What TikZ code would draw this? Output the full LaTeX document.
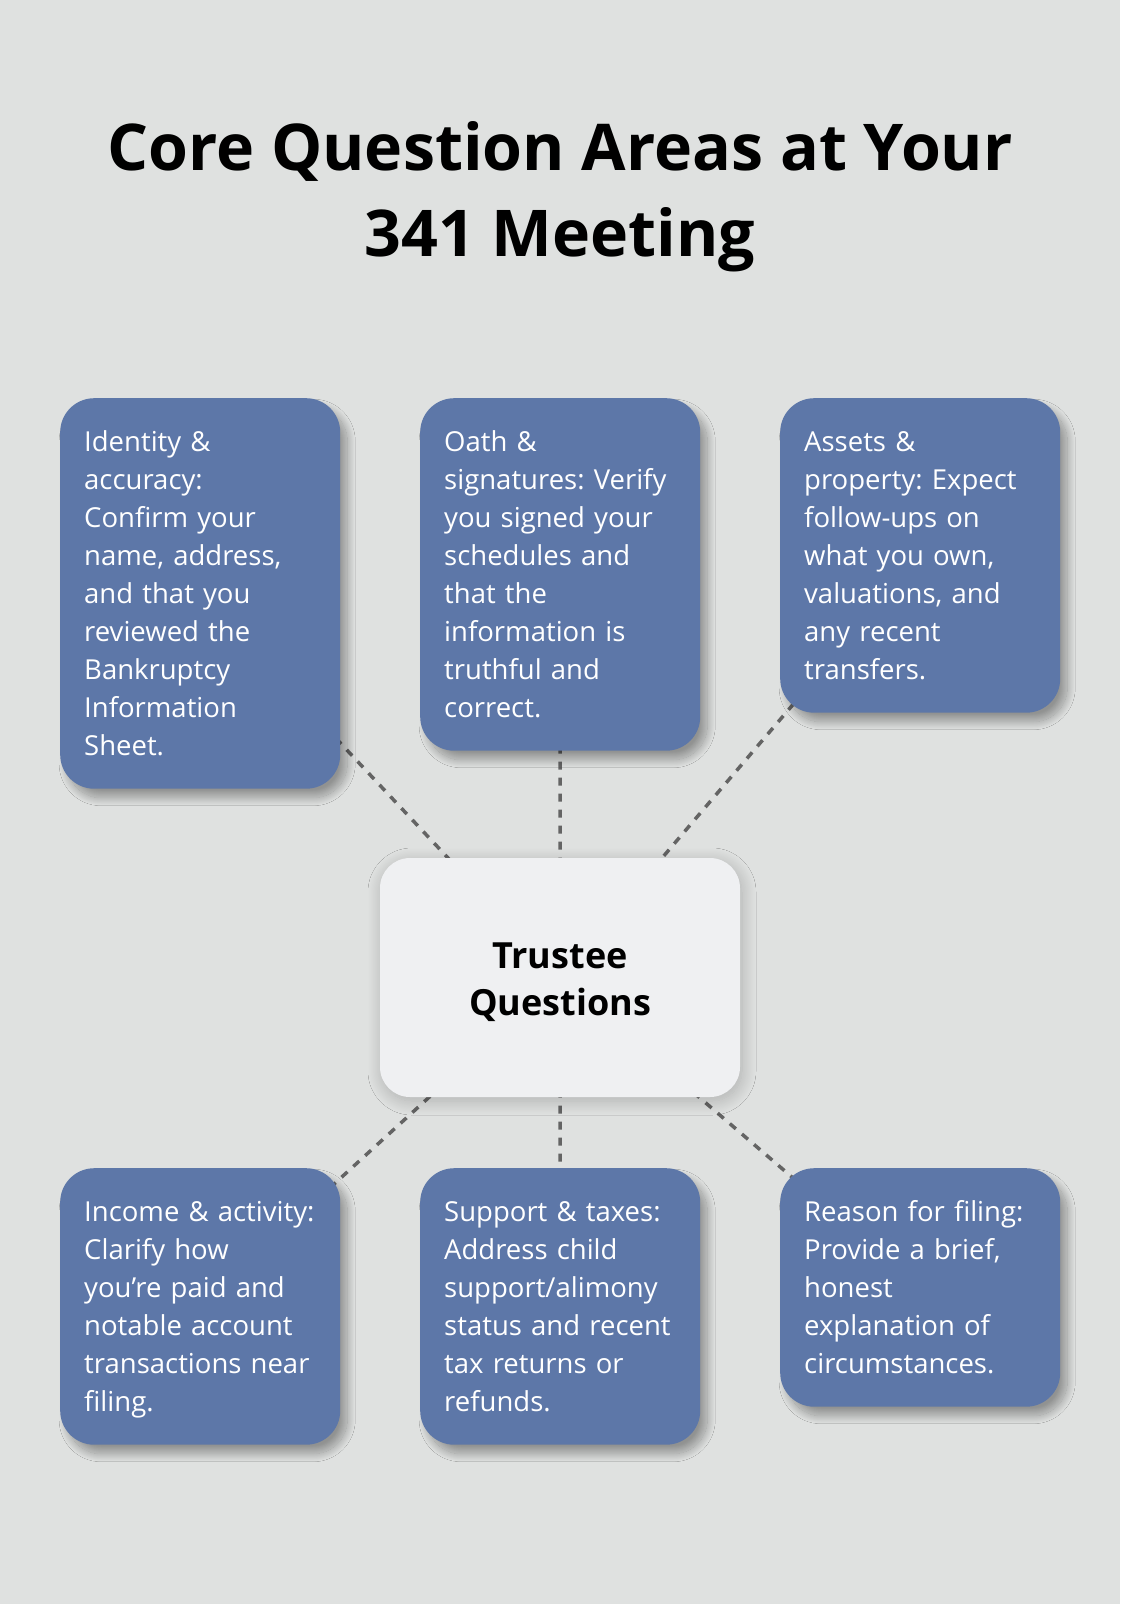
\documentclass[tikz,border=0pt]{standalone}
\usepackage{fontspec}
\setmainfont{Open Sans}
\frenchspacing
\usetikzlibrary{backgrounds,shadows.blur}
\definecolor{bgc}{HTML}{DFE1E0}
\definecolor{boxc}{HTML}{5D77A8}
\definecolor{hubc}{HTML}{EFF0F2}
\definecolor{dashc}{HTML}{646464}
\tikzset{
	topic/.style={anchor=north west, fill=boxc, text=white, rounded corners=34pt,
		text width=232pt, inner xsep=24pt, inner ysep=24pt, align=left,
		font=\fontsize{27.5}{38}\selectfont,
		execute at begin node={\rule{0pt}{29.5pt}},
		execute at end node={\rule[-9pt]{0pt}{9pt}},
		blur shadow={shadow xshift=7pt, shadow yshift=-9pt, shadow blur radius=8pt, shadow blur steps=25, shadow opacity=35}},
	hub/.style={fill=hubc, rounded corners=30pt, minimum width=360pt, minimum height=239pt,
		align=center, font=\fontsize{36}{47}\selectfont\bfseries,
		blur shadow={shadow xshift=2pt, shadow yshift=-4pt, shadow blur radius=14pt, shadow blur steps=25, shadow opacity=22}},
	headline/.style={anchor=base, font=\fontsize{64.5}{86}\selectfont\bfseries},
	link/.style={dashc, line width=3.5pt, dash pattern=on 8pt off 8pt}
}
\begin{document}
\begin{tikzpicture}[x=1pt,y=-1pt]
	\useasboundingbox (0,0) rectangle (1120,1604);
	% title
	\node[headline] (t1) at (560,170) {Core Question Areas at Your};
	\node[headline] (t2) at (560,256) {341 Meeting};
	% hub
	\node[hub] (tq) at (560,977.5) {\raisebox{0pt}[36pt][0pt]{Trustee}\\Questions};
	% top row
	\node[topic] (id) at (60,398) {Identity \&\\accuracy:\\Confirm your\\name, address,\\and that you\\reviewed the\\Bankruptcy\\Information\\Sheet.};
	\node[topic] (oath) at (420,398) {Oath \&\\signatures: Verify\\you signed your\\schedules and\\that the\\information is\\truthful and\\correct.};
	\node[topic] (assets) at (780,398) {Assets \&\\property: Expect\\follow-ups on\\what you own,\\valuations, and\\any recent\\transfers.};
	% bottom row
	\node[topic] (inc) at (60,1168) {Income \& activity:\\Clarify how\\you’re paid and\\notable account\\transactions near\\filing.};
	\node[topic] (sup) at (420,1168) {Support \& taxes:\\Address child\\support/alimony\\status and recent\\tax returns or\\refunds.};
	\node[topic] (why) at (780,1168) {Reason for filing:\\Provide a brief,\\honest\\explanation of\\circumstances.};
	\begin{scope}[on background layer]
		\fill[bgc] (0,0) rectangle (1120,1604);
		\foreach \b in {id,oath,assets,inc,sup,why}
			\draw[link] (tq.center) -- (\b.center);
	\end{scope}
\end{tikzpicture}
\end{document}
